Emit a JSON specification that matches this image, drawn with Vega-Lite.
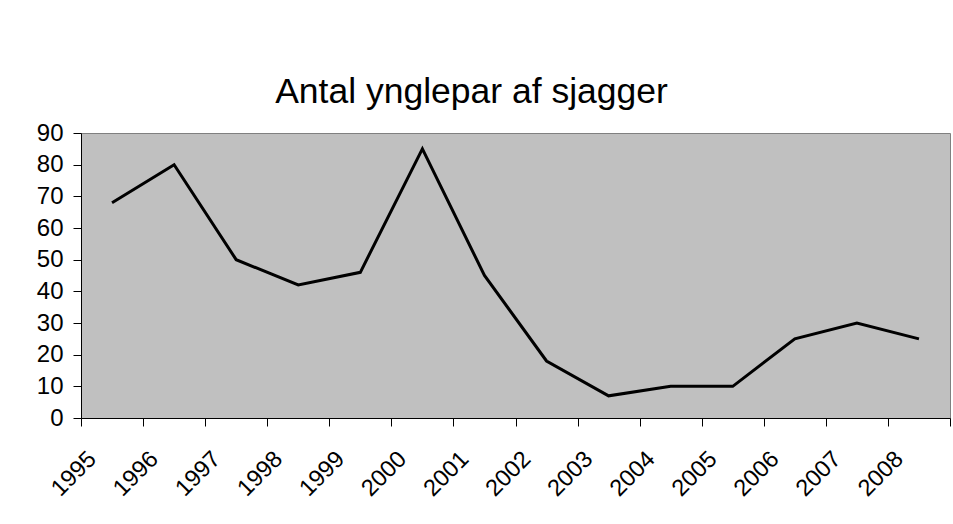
{
  "$schema": "https://vega.github.io/schema/vega-lite/v6.json",
  "width": 869,
  "height": 285,
  "autosize": "none",
  "padding": {"left": 81, "top": 133, "right": 3, "bottom": 106},
  "background": "white",
  "title": {
    "text": "Antal ynglepar af sjagger",
    "font": "Liberation Sans",
    "fontSize": 35.5,
    "fontWeight": "normal",
    "color": "black",
    "anchor": "middle",
    "frame": "group",
    "dx": -44,
    "dy": 50,
    "offset": 33,
    "baseline": "alphabetic"
  },
  "config": {
    "view": {"fill": "#C0C0C0", "stroke": "#808080", "strokeWidth": 1},
    "font": "Liberation Sans",
    "axisY": {
      "labelOverlap": false,
      "tickSize": 8,
      "tickColor": "black",
      "domainColor": "black",
      "grid": false,
      "labelFontSize": 24,
      "labelColor": "black",
      "labelFont": "Liberation Sans",
      "labelPadding": 10,
      "labelFlush": false
    }
  },
  "data": {
    "values": [
      {"year": 1995, "pairs": 68},
      {"year": 1996, "pairs": 80},
      {"year": 1997, "pairs": 50},
      {"year": 1998, "pairs": 42},
      {"year": 1999, "pairs": 46},
      {"year": 2000, "pairs": 85},
      {"year": 2001, "pairs": 45},
      {"year": 2002, "pairs": 18},
      {"year": 2003, "pairs": 7},
      {"year": 2004, "pairs": 10},
      {"year": 2005, "pairs": 10},
      {"year": 2006, "pairs": 25},
      {"year": 2007, "pairs": 30},
      {"year": 2008, "pairs": 25}
    ]
  },
  "resolve": {"axis": {"x": "independent"}},
  "layer": [
    {
      "mark": {"type": "line", "opacity": 0},
      "encoding": {
        "x": {
          "field": "year",
          "type": "quantitative",
          "scale": {"domain": [1994.5, 2008.5], "nice": false, "zero": false},
          "axis": {
            "orient": "bottom",
            "title": null,
            "values": [1995, 1996, 1997, 1998, 1999, 2000, 2001, 2002, 2003, 2004, 2005, 2006, 2007, 2008],
            "format": "d",
            "ticks": false,
            "tickSize": 0,
            "domain": false,
            "grid": false,
            "labelAngle": -45,
            "labelAlign": "right",
            "labelBaseline": "middle",
            "labelPadding": 37,
            "labelOffset": -20,
            "labelFontSize": 23.5,
            "labelColor": "black",
            "labelFont": "Liberation Sans",
            "labelOverlap": false
          }
        },
        "y": {
          "field": "pairs",
          "type": "quantitative",
          "scale": {"domain": [0, 90], "nice": false},
          "axis": {
            "title": null,
            "values": [0, 10, 20, 30, 40, 50, 60, 70, 80, 90]
          }
        }
      }
    },
    {
      "mark": {"type": "line", "color": "black", "strokeWidth": 3},
      "encoding": {
        "x": {
          "field": "year",
          "type": "quantitative",
          "axis": {
            "orient": "bottom",
            "title": null,
            "values": [1994.5, 1995.5, 1996.5, 1997.5, 1998.5, 1999.5, 2000.5, 2001.5, 2002.5, 2003.5, 2004.5, 2005.5, 2006.5, 2007.5, 2008.5],
            "labels": false,
            "ticks": true,
            "tickSize": 8,
            "tickColor": "black",
            "domain": true,
            "domainColor": "black",
            "domainWidth": 1,
            "grid": false
          }
        },
        "y": {
          "field": "pairs",
          "type": "quantitative",
          "axis": {
            "title": null,
            "values": [0, 10, 20, 30, 40, 50, 60, 70, 80, 90]
          }
        }
      }
    }
  ]
}
